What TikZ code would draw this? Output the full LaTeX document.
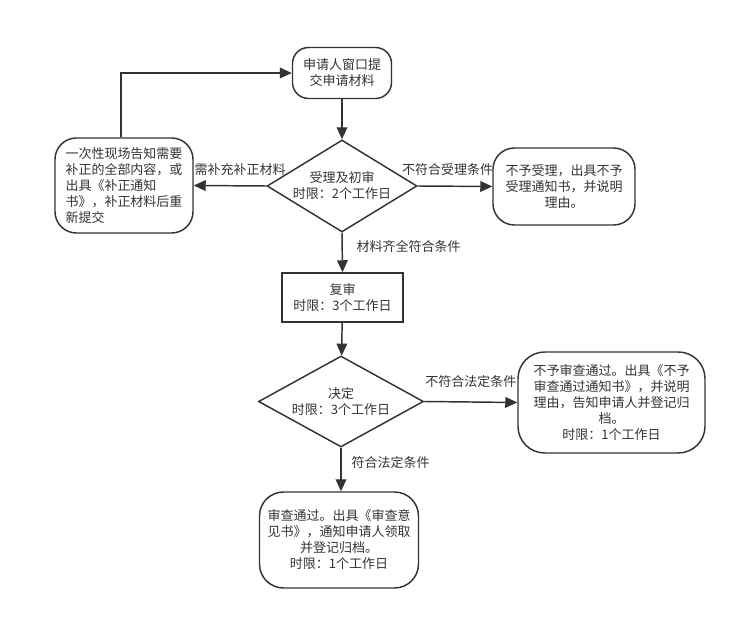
\documentclass[tikz,border=0pt]{standalone}
\usepackage{fontspec}
\setmainfont{Noto Sans CJK SC}
\usepackage{tikz}
\usepackage{xcolor}
\usetikzlibrary{calc,positioning,arrows.meta,shapes}

\definecolor{lc}{HTML}{333333}

\tikzset{
    every node/.style={font=\fontsize{9.75pt}{12pt}\selectfont, text=lc},
    rbox/.style={draw=lc, line width=1.1pt, rounded corners=16pt, inner sep=0pt, align=center},
    sbox/.style={draw=lc, line width=1.1pt, inner sep=0pt, align=center},
    dbox/.style={draw=lc, line width=1.1pt, shape=diamond, inner sep=0pt, align=center},
    arr/.style={draw=lc, line width=1.1pt, -{Triangle[length=9pt,width=8pt]}}
}

\begin{document}
\begin{tikzpicture}[x=0.75pt, y=-0.75pt]
        \useasboundingbox (0, 0) rectangle (733, 620);

        %%boxes
        \node[rbox, rounded corners=12pt, minimum width=74.25pt, minimum height=38.25pt] (submit) at (342, 73){申请人窗口提\\交申请材料};
        \node[dbox, aspect=1.63, minimum width=112.5pt, minimum height=69pt] (first) at (342, 186){受理及初审\\时限：2个工作日};
        \node[rbox, align=left, minimum width=103.5pt, minimum height=71.25pt] (fix) at (124, 185.5){一次性现场告知需要\\补正的全部内容，或\\出具《补正通知\\书》，补正材料后重\\新提交};
        \node[rbox, minimum width=106.5pt, minimum height=57.75pt] (reject) at (564, 186.5){不予受理，出具不予\\受理通知书，并说明\\理由。};
        \node[sbox, minimum width=90.75pt, minimum height=36.75pt] (second) at (342.5, 297.5){复审\\时限：3个工作日};
        \node[dbox, aspect=1.81, minimum width=123.75pt, minimum height=68.25pt] (decide) at (341, 401.5){决定\\时限：3个工作日};
        \node[rbox, rounded corners=20pt, minimum width=140.25pt, minimum height=75.75pt] (fail) at (611.5, 402.5){不予审查通过。出具《不予\\审查通过通知书》，并说明\\理由，告知申请人并登记归\\档。\\时限：1个工作日};
        \node[rbox, rounded corners=18pt, minimum width=119.25pt, minimum height=72pt] (pass) at (339, 540){审查通过。出具《审查意\\见书》，通知申请人领取\\并登记归档。\\时限：1个工作日};

        %%arrows
        \draw[arr] (submit) -- (first);
        \draw[arr] (first.west) -- node[above=4pt, pos=0.36]{需补充补正材料} (fix.east);
        \draw[arr] ([xshift=-2.25pt]fix.north) |- (submit.west);
        \draw[arr] (first.east) -- node[above=4pt, pos=0.4]{不符合受理条件} (reject.west);
        \draw[arr] (first.south) -- node[right=7pt, pos=0.34]{材料齐全符合条件} (second.north);
        \draw[arr] (second) -- (decide);
        \draw[arr] (decide.east) -- node[above=7pt, pos=0.5]{不符合法定条件} (fail.west);
        \draw[arr] (decide.south) -- node[right=4pt, pos=0.33]{符合法定条件} (pass.north -| decide.south);

        \end{tikzpicture}
\end{document}
